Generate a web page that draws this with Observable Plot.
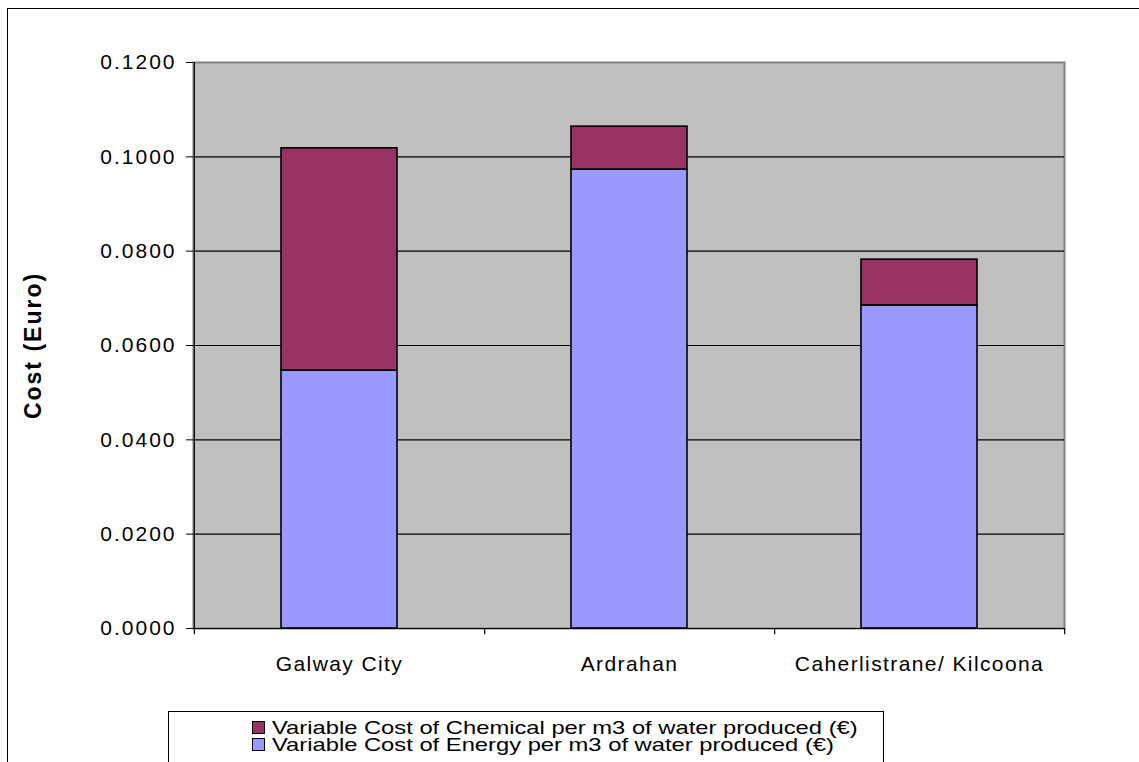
<!DOCTYPE html>
<html><head><meta charset="utf-8">
<script src="https://cdn.jsdelivr.net/npm/d3@7"></script>
<script src="https://cdn.jsdelivr.net/npm/@observablehq/plot@0.6"></script>
<style>
body{margin:0;background:#fff;font-family:"Liberation Sans",Arial,sans-serif}
#wrap{position:relative;width:1139px;height:762px;overflow:hidden}
#border{position:absolute;left:7px;top:8px;width:1200px;height:800px;border:1.5px solid #000;box-sizing:border-box}
#chart{position:absolute;left:0;top:0}
#legend{position:absolute;left:168px;top:711px;width:716px;height:80px;border:1px solid #000;background:#fff;box-sizing:border-box;padding:7px 0 0 83px;font-size:19px;line-height:17px}
.row{display:flex;align-items:center;white-space:nowrap;height:17px}
.sw{width:11px;height:11px;border:1.5px solid #000;margin-right:7px;flex:none}
.lt{display:inline-block;transform:scaleX(1.25);transform-origin:0 50%}
#chart g[aria-label="y-axis tick label"] text{letter-spacing:2px}
#chart g[aria-label="x-axis tick label"] text{letter-spacing:1.4px}
#chart g[aria-label="text"] text{letter-spacing:2px}
</style></head>
<body>
<div id="wrap"><div id="border"></div><div id="chart"></div><div id="legend"></div></div>
<script>
const categories = ["Galway City", "Ardrahan", "Caherlistrane/ Kilcoona"];
const energy = [0.0547, 0.0973, 0.0685];
const chemical = [0.0471, 0.0091, 0.0097];
const series = ["Variable Cost of Chemical per m3 of water produced (€)", "Variable Cost of Energy per m3 of water produced (€)"];
const colors = ["#993366", "#9999FF"];
const yTicks = [0, 0.02, 0.04, 0.06, 0.08, 0.10, 0.12];
const yTitle = "Cost (Euro)";

const rows = [];
categories.forEach((c, i) => rows.push({cat: c, series: series[1], value: energy[i]}));
categories.forEach((c, i) => rows.push({cat: c, series: series[0], value: chemical[i]}));

const W = 1139, H = 762, mL = 193, mR = 75, mT = 62, mB = 134;
const half = (W - mL - mR) / categories.length / 2;
const below = -0.0013;

const chart = Plot.plot({
  width: W, height: H,
  marginLeft: mL, marginRight: mR, marginTop: mT, marginBottom: mB,
  style: {fontFamily: "'Liberation Sans', Arial, sans-serif", background: "transparent", color: "#000"},
  x: {domain: categories, paddingInner: 0.6, paddingOuter: 0.3, axis: null},
  y: {domain: [0, 0.12], axis: null},
  color: {domain: series, range: colors},
  marks: [
    Plot.frame({fill: "#C0C0C0", stroke: "#808080", strokeWidth: 2}),
    Plot.ruleY(yTicks.filter(d => d > 0 && d < 0.12), {stroke: "#000", strokeWidth: 1.2}),
    Plot.barY(rows, {x: "cat", y: "value", fill: "series", stroke: "#000", strokeWidth: 1.6}),
    Plot.ruleY([0], {stroke: "#000", strokeWidth: 1.2}),
    Plot.ruleX([categories[0]], {x: d => d, y1: below, y2: 0.12, dx: -half, stroke: "#000", strokeWidth: 1.2}),
    Plot.ruleX(categories, {x: d => d, y1: below, y2: 0, dx: half, stroke: "#000", strokeWidth: 1.2}),
    Plot.axisY({ticks: yTicks, tickFormat: d3.format(".4f"), tickSize: 7, tickPadding: 10, fontSize: 21, label: null}),
    Plot.axisX({tickSize: 0, tickPadding: 28, fontSize: 21, label: null}),
    Plot.text([yTitle], {frameAnchor: "left", textAnchor: "middle", dx: -160, rotate: -90, fontWeight: "bold", fontSize: 23, fill: "#000"})
  ]
});
document.getElementById("chart").appendChild(chart);

const leg = document.getElementById("legend");
series.forEach((s, i) => {
  const r = document.createElement("div");
  r.className = "row";
  const sw = document.createElement("span");
  sw.className = "sw";
  sw.style.background = colors[i];
  const t = document.createElement("span");
  t.className = "lt";
  t.textContent = s;
  r.appendChild(sw); r.appendChild(t);
  leg.appendChild(r);
});
</script>
</body></html>
